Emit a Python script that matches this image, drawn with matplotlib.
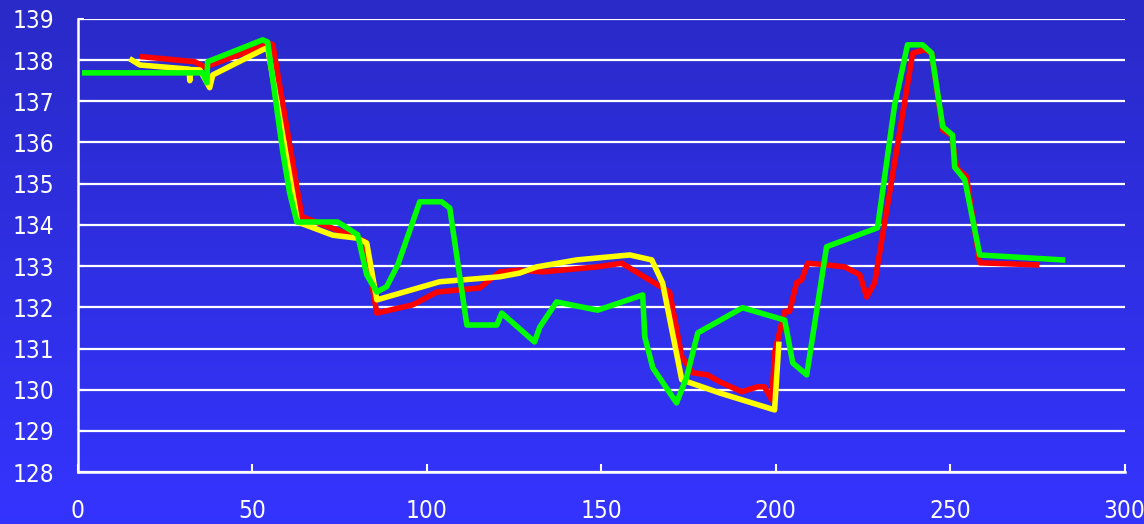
import matplotlib
matplotlib.use('Agg')
import matplotlib.pyplot as plt
import numpy as np

plt.rcParams['font.family'] = ['DejaVu Sans']
plt.rcParams['font.stretch'] = 'condensed'

# 紅線
red_x = [18.6, 33.5, 36.4, 55.0, 55.9, 64.2, 74.2, 82.2, 85.7, 96.0, 102.9, 115.2,
         120.9, 126.6, 133.2, 148.7, 155.9, 167.6, 169.6, 173.1, 176.2, 180.5, 184.0,
         190.3, 194.8, 196.8, 198.9, 199.7, 201.7, 202.6, 204.0, 206.0, 207.4, 209.2,
         214.6, 219.8, 224.1, 226.1, 228.4, 239.3, 242.7, 244.7, 247.9, 250.4, 251.9,
         254.7, 258.5, 274.8]
red_y = [138.08, 137.96, 137.83, 138.4, 138.37, 134.2, 133.88, 133.6, 131.86, 132.06,
         132.37, 132.47, 132.86, 132.9, 132.86, 132.98, 133.07, 132.47, 132.37, 130.8,
         130.41, 130.36, 130.19, 129.95, 130.07, 130.07, 129.75, 130.9, 131.6, 131.9,
         131.9, 132.6, 132.66, 133.07, 133.03, 132.98, 132.79, 132.25, 132.6, 138.17,
         138.25, 138.17, 136.3, 136.18, 135.38, 135.17, 133.08, 133.03]

# 黃線
yellow_x = [15.5, 17.8, 31.9, 32.1, 32.4, 35.0, 37.8, 38.7, 53.0, 54.4, 63.0, 73.1,
            79.9, 82.8, 85.7, 103.7, 120.9, 126.6, 131.5, 143.0, 158.2, 164.5, 167.6,
            173.1, 184.0, 199.7, 200.9]
yellow_y = [138.0, 137.88, 137.78, 137.5, 137.77, 137.76, 137.33, 137.64, 138.25, 138.3,
            134.07, 133.75, 133.68, 133.56, 132.18, 132.62, 132.74, 132.83, 132.98,
            133.15, 133.27, 133.15, 132.59, 130.24, 129.92, 129.51, 131.1]

# 綠線
green_x = [2.0, 35.8, 37.0, 37.2, 53.0, 54.4, 58.7, 60.7, 62.8, 74.5, 80.2, 82.8, 85.7,
           88.5, 91.7, 98.0, 104.3, 106.6, 111.5, 120.1, 121.5, 130.9, 132.4, 137.2,
           149.0, 161.9, 162.5, 164.8, 171.6, 174.5, 177.7, 190.5, 202.6, 204.9, 208.9,
           214.6, 229.2, 234.1, 237.8, 242.1, 244.7, 247.9, 250.7, 251.3, 254.2, 258.5,
           282.2]
green_y = [137.69, 137.69, 137.45, 137.96, 138.49, 138.44, 135.8, 134.78, 134.07, 134.07,
           133.76, 132.79, 132.37, 132.5, 133.03, 134.56, 134.56, 134.41, 131.57, 131.57,
           131.86, 131.16, 131.52, 132.13, 131.93, 132.3, 131.28, 130.53, 129.68, 130.31,
           131.38, 131.99, 131.69, 130.65, 130.36, 133.47, 133.93, 136.91, 138.37, 138.37,
           138.17, 136.38, 136.18, 135.4, 135.1, 133.27, 133.15]

x_ticks = [0, 50, 100, 150, 200, 250, 300]
y_ticks = list(range(128, 140))

fig = plt.figure(figsize=(11.44, 5.24), dpi=100)

# 背景漸層
bg = fig.add_axes([0, 0, 1, 1], zorder=-1)
grad = np.linspace(0, 1, 256).reshape(-1, 1)
top = np.array([42, 42, 200]) / 255
bottom = np.array([52, 52, 255]) / 255
img = top + (bottom - top) * grad[:, :, None]
bg.imshow(img, aspect='auto', extent=[0, 1, 0, 1])
bg.axis('off')

ax = fig.add_axes([0.068, 0.099, 0.915, 0.865])
ax.patch.set_alpha(0)

ax.plot(red_x, red_y, color='#ff0000', linewidth=4, solid_joinstyle='round', zorder=3)
ax.plot(yellow_x, yellow_y, color='#ffff00', linewidth=4, solid_joinstyle='round', zorder=4)
ax.plot(green_x, green_y, color='#00ff00', linewidth=4, solid_joinstyle='round', zorder=5)

ax.set_xlim(0, 300)
ax.set_ylim(128, 139)
ax.set_xticks(x_ticks)
ax.set_yticks(y_ticks)
ax.grid(axis='y', color='white', linewidth=1.6)
ax.set_axisbelow(True)

for s in ['top', 'right']:
    ax.spines[s].set_visible(False)
for s in ['left', 'bottom']:
    ax.spines[s].set_color('white')
    ax.spines[s].set_linewidth(1.8)

ax.tick_params(axis='x', direction='in', length=6, width=1.5, colors='white',
               labelsize=17.5, pad=19)
ax.tick_params(axis='y', direction='in', length=4, width=1.5, colors='white',
               labelsize=17.5, pad=17)

fig.savefig('out.png', dpi=100)
